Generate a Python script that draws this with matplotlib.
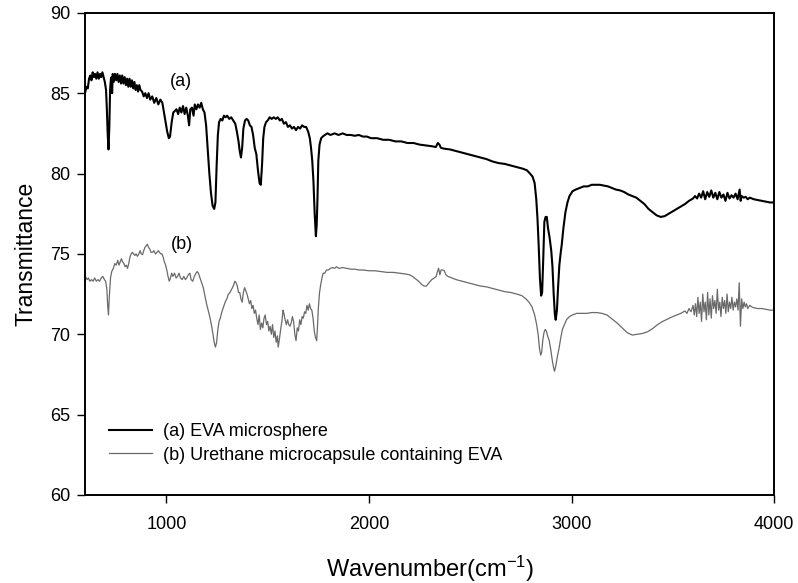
import matplotlib
matplotlib.use("Agg")
import matplotlib.pyplot as plt

plt.rcParams['font.family'] = ['Liberation Sans', 'DejaVu Sans']
plt.rcParams['mathtext.fontset'] = 'custom'
plt.rcParams['mathtext.rm'] = 'Liberation Sans'
plt.rcParams['mathtext.it'] = 'Liberation Sans:italic'

# ---- data: curve (a) EVA microsphere ----
wn_a = [600, 606, 612, 618, 624, 630, 636, 642, 648, 654, 660, 666, 672, 678, 684, 690, 696, 702, 706, 710,
        714, 718, 722, 726, 729, 732, 735, 740, 746, 752, 758, 764, 770, 776, 782, 788, 794, 800, 806, 812,
        818, 824, 830, 836, 842, 848, 854, 860, 866, 872, 880, 888, 896, 904, 912, 920, 930, 940, 950, 960,
        970, 980, 988, 996, 1004, 1012, 1018, 1026, 1034, 1042, 1050, 1058, 1066, 1074, 1082, 1090, 1098, 1106, 1112, 1118,
        1126, 1134, 1140, 1148, 1156, 1164, 1172, 1180, 1188, 1196, 1204, 1212, 1220, 1228, 1236, 1242, 1248, 1254, 1260, 1268,
        1276, 1284, 1292, 1300, 1310, 1320, 1330, 1340, 1348, 1356, 1362, 1368, 1374, 1380, 1388, 1396, 1404, 1412, 1420, 1428,
        1436, 1444, 1452, 1460, 1466, 1472, 1478, 1484, 1492, 1500, 1510, 1520, 1530, 1540, 1550, 1560, 1570, 1580, 1590, 1600,
        1610, 1620, 1630, 1640, 1650, 1660, 1670, 1680, 1690, 1700, 1708, 1714, 1720, 1726, 1732, 1738, 1742, 1746, 1750, 1756,
        1764, 1772, 1782, 1795, 1810, 1830, 1850, 1870, 1890, 1910, 1930, 1950, 1970, 1990, 2010, 2040, 2070, 2100, 2130, 2160,
        2190, 2220, 2250, 2280, 2310, 2330, 2340, 2348, 2355, 2370, 2400, 2430, 2460, 2490, 2520, 2550, 2580, 2610, 2640, 2670,
        2700, 2730, 2760, 2780, 2795, 2808, 2818, 2826, 2832, 2838, 2844, 2850, 2855, 2860, 2866, 2872, 2878, 2884, 2892, 2900,
        2906, 2912, 2918, 2922, 2928, 2934, 2940, 2946, 2952, 2960, 2970, 2980, 2990, 3005, 3020, 3040, 3060, 3080, 3100, 3120,
        3140, 3160, 3180, 3200, 3220, 3240, 3260, 3280, 3300, 3320, 3340, 3360, 3380, 3400, 3420, 3440, 3460, 3480, 3500, 3520,
        3540, 3560, 3580, 3600, 3610, 3620, 3630, 3640, 3650, 3660, 3670, 3680, 3690, 3700, 3710, 3720, 3730, 3740, 3750, 3760,
        3770, 3780, 3790, 3800, 3810, 3820, 3830, 3835, 3840, 3850, 3860, 3870, 3880, 3900, 3920, 3940, 3960, 3980, 4000]
t_a = [85.1, 85.4, 85.3, 85.9, 86.1, 85.8, 86.3, 86.0, 86.2, 85.9, 86.3, 85.9, 86.2, 86.0, 86.3, 86.0, 85.7, 85.2, 84.0, 82.5,
       81.5, 82.8, 85.2, 85.9, 86.0, 85.0, 86.2, 85.7, 86.2, 85.8, 86.2, 85.7, 86.1, 85.6, 86.1, 85.6, 86.0, 85.5, 85.9, 85.4,
       85.9, 85.4, 85.8, 85.3, 85.7, 85.2, 85.5, 85.1, 85.5, 85.2, 85.1, 84.8, 85.0, 84.7, 85.0, 84.6, 84.8, 84.4, 84.7, 84.3,
       84.6, 84.4, 83.8, 83.2, 82.6, 82.2, 82.3, 83.2, 83.8, 83.9, 84.0, 83.7, 84.1, 83.8, 84.2, 83.7, 84.1, 83.6, 83.0, 84.0,
       84.1, 83.6, 84.3, 84.0, 84.3, 84.1, 84.4, 84.0, 83.8, 83.0, 81.5, 80.0, 78.8, 78.0, 77.8, 78.2, 80.5, 82.4, 83.2, 83.4,
       83.3, 83.6, 83.5, 83.6, 83.4, 83.5, 83.3, 83.1, 82.6, 82.0, 81.4, 81.0, 81.6, 82.8, 83.3, 83.4, 83.3, 83.0, 82.9, 82.4,
       81.6, 81.2, 80.2, 79.4, 79.3, 80.5, 82.2, 82.9, 83.2, 83.3, 83.5, 83.4, 83.5, 83.4, 83.5, 83.3, 83.4, 83.1, 83.2, 82.9,
       83.0, 82.8, 82.9, 82.7, 82.9, 82.8, 83.0, 82.9, 82.9, 82.6, 82.2, 81.6, 80.8, 79.5, 77.5, 76.1, 76.8, 78.5, 80.8, 81.8,
       82.2, 82.3, 82.4, 82.5, 82.4, 82.5, 82.4, 82.5, 82.4, 82.4, 82.35, 82.4, 82.3, 82.3, 82.2, 82.2, 82.1, 82.1, 82.0, 82.0,
       81.9, 81.9, 81.8, 81.75, 81.7, 81.65, 81.9, 81.8, 81.6, 81.55, 81.5, 81.4, 81.3, 81.2, 81.1, 81.0, 80.9, 80.75, 80.65, 80.6,
       80.5, 80.4, 80.3, 80.2, 80.0, 79.8, 79.4, 78.4, 77.2, 75.5, 73.5, 72.4, 72.6, 74.5, 77.0, 77.3, 77.3, 76.6, 76.0, 75.2,
       74.2, 72.5, 71.2, 70.9, 71.5, 73.0, 74.3, 75.0, 75.6, 76.6, 77.6, 78.2, 78.6, 78.9, 79.0, 79.1, 79.2, 79.2, 79.3, 79.3,
       79.3, 79.25, 79.2, 79.1, 79.0, 78.95, 78.85, 78.7, 78.6, 78.5, 78.3, 78.1, 77.8, 77.6, 77.4, 77.3, 77.35, 77.5, 77.65, 77.8,
       77.95, 78.1, 78.3, 78.45, 78.6, 78.45, 78.75, 78.5, 78.9, 78.4, 78.85, 78.55, 78.95, 78.5, 78.8, 78.4, 78.85, 78.5, 78.7, 78.3,
       78.8, 78.45, 78.65, 78.5, 78.75, 78.4, 79.0, 78.3, 78.6, 78.5, 78.55, 78.4, 78.5, 78.4, 78.35, 78.3, 78.25, 78.2, 78.2]

# ---- data: curve (b) Urethane microcapsule containing EVA ----
wn_b = [600, 608, 615, 622, 630, 638, 646, 654, 662, 670, 678, 686, 694, 700, 706, 710, 714, 718, 724, 730,
        738, 745, 752, 760, 766, 772, 778, 784, 790, 796, 802, 808, 814, 820, 826, 832, 838, 844, 850, 857,
        864, 870, 876, 882, 888, 894, 900, 906, 912, 918, 924, 931, 938, 946, 954, 960, 966, 972, 978, 984,
        990, 996, 1002, 1008, 1014, 1020, 1026, 1032, 1040, 1048, 1055, 1062, 1070, 1078, 1086, 1094, 1100, 1108, 1116, 1122,
        1130, 1138, 1146, 1152, 1158, 1166, 1174, 1182, 1190, 1198, 1206, 1214, 1222, 1230, 1236, 1242, 1248, 1254, 1260, 1266,
        1274, 1282, 1290, 1298, 1306, 1314, 1322, 1330, 1338, 1344, 1350, 1356, 1362, 1368, 1374, 1380, 1386, 1392, 1398, 1404,
        1410, 1416, 1422, 1428, 1434, 1440, 1446, 1452, 1458, 1464, 1470, 1476, 1482, 1488, 1494, 1500, 1506, 1512, 1518, 1524,
        1530, 1536, 1542, 1548, 1552, 1558, 1564, 1570, 1576, 1580, 1586, 1592, 1598, 1604, 1610, 1616, 1622, 1628, 1634, 1640,
        1646, 1652, 1658, 1664, 1670, 1676, 1682, 1688, 1694, 1700, 1706, 1712, 1718, 1724, 1730, 1736, 1742, 1746, 1750, 1756,
        1762, 1768, 1774, 1782, 1790, 1800, 1810, 1820, 1830, 1840, 1852, 1870, 1890, 1910, 1930, 1950, 1970, 2000, 2030, 2060,
        2090, 2120, 2150, 2180, 2200, 2215, 2230, 2245, 2260, 2272, 2284, 2296, 2310, 2322, 2332, 2338, 2344, 2350, 2356, 2364,
        2372, 2380, 2390, 2400, 2430, 2460, 2490, 2520, 2550, 2580, 2610, 2640, 2670, 2700, 2730, 2755, 2775, 2790, 2805, 2818,
        2828, 2836, 2842, 2848, 2853, 2858, 2864, 2870, 2876, 2882, 2890, 2898, 2906, 2912, 2916, 2922, 2930, 2938, 2946, 2955,
        2965, 2975, 2990, 3005, 3025, 3050, 3075, 3100, 3125, 3150, 3175, 3200, 3225, 3250, 3275, 3300, 3325, 3350, 3375, 3400,
        3425, 3450, 3475, 3500, 3520, 3540, 3560, 3570, 3580, 3590, 3600, 3606, 3612, 3618, 3624, 3630, 3636, 3642, 3648, 3654,
        3660, 3666, 3672, 3678, 3684, 3690, 3696, 3702, 3708, 3714, 3720, 3726, 3732, 3738, 3744, 3750, 3756, 3762, 3768, 3774,
        3780, 3786, 3792, 3798, 3804, 3810, 3816, 3822, 3828, 3834, 3840, 3846, 3852, 3858, 3864, 3870, 3880, 3890, 3900, 3920,
        3940, 3960, 3980, 4000]
t_b = [73.6, 73.4, 73.5, 73.3, 73.4, 73.3, 73.5, 73.3, 73.4, 73.3, 73.5, 73.6, 73.4, 73.3, 72.8, 71.8, 71.2, 72.3, 73.5, 73.9,
       74.1, 74.4, 74.3, 74.6, 74.3, 74.5, 74.7, 74.5, 74.4, 74.2, 74.3, 74.1, 74.4, 74.8, 75.0, 75.1, 75.0, 74.9, 75.0, 74.85,
       75.0, 75.2, 75.0, 74.95, 75.2, 75.4, 75.5, 75.6, 75.4, 75.3, 75.1, 75.1, 75.2, 75.0, 75.1, 75.2, 75.1, 75.0, 75.0, 74.8,
       74.5, 74.3, 74.0, 73.6, 73.3, 73.5, 73.8, 73.6, 73.8, 73.5, 73.6, 73.8, 73.5, 73.4, 73.6, 73.4, 73.5, 73.7, 73.8, 73.4,
       73.3, 73.6, 73.8, 73.9, 73.8, 73.5, 73.2, 72.9, 72.4, 71.9, 71.5, 71.1, 70.6, 70.0, 69.5, 69.2, 69.5, 70.3, 70.8, 71.0,
       71.4, 71.7, 72.0, 72.2, 72.5, 72.6, 72.8, 73.0, 73.3, 73.2, 73.0, 72.6, 72.6, 72.2, 72.0, 72.6, 72.9, 72.7, 72.5, 72.2,
       71.9, 72.1, 71.6, 71.8, 71.3, 71.5, 71.0, 70.6, 71.2, 70.3, 70.7, 70.4, 71.0, 71.2, 70.6, 70.8, 70.2, 70.5, 70.0, 70.6,
       69.8, 70.2, 69.5, 69.9, 69.2, 69.7, 70.3, 70.8, 71.5, 71.3, 70.9, 70.6, 70.9, 70.6, 70.5, 70.7, 71.1, 70.8, 70.0, 69.6,
       70.4, 70.2, 70.9, 70.6, 71.1, 71.0, 71.4, 71.3, 71.8, 71.5, 71.9, 71.6, 71.5, 71.0, 70.2, 69.8, 69.6, 70.5, 71.6, 72.6,
       73.1, 73.5, 73.8, 73.8, 74.0, 74.0, 74.1, 74.15, 74.1, 74.2, 74.1, 74.15, 74.1, 74.05, 74.05, 74.0, 74.0, 73.95, 73.95, 73.9,
       73.85, 73.85, 73.8, 73.75, 73.7, 73.6, 73.45, 73.3, 73.1, 73.0, 73.0, 73.2, 73.4, 73.5, 73.6, 73.9, 74.1, 73.7, 74.0, 74.0,
       73.95, 73.7, 73.6, 73.55, 73.4, 73.3, 73.2, 73.1, 73.0, 72.95, 72.85, 72.75, 72.65, 72.6, 72.5, 72.4, 72.2, 72.0, 71.7, 71.2,
       70.6, 69.9, 69.1, 68.7, 68.9, 69.6, 70.1, 70.3, 70.2, 69.9, 69.6, 69.0, 68.3, 67.9, 67.7, 68.0, 68.6, 69.1, 69.7, 70.3,
       70.6, 70.9, 71.1, 71.2, 71.3, 71.3, 71.3, 71.35, 71.35, 71.3, 71.2, 70.95, 70.7, 70.4, 70.1, 69.95, 70.0, 70.05, 70.15, 70.35,
       70.6, 70.8, 70.95, 71.1, 71.2, 71.3, 71.45, 71.3, 71.6, 71.4, 71.8, 71.2, 71.9, 71.1, 72.3, 71.3, 72.0, 70.8, 72.5, 71.4,
       72.0, 70.9, 72.6, 71.2, 72.2, 71.0, 72.4, 71.6, 72.1, 71.3, 72.8, 71.5, 72.0, 71.1, 72.3, 71.6, 72.1, 71.3, 72.5, 71.4,
       72.0, 71.6, 72.3, 71.5, 72.0, 71.7, 72.2, 71.5, 73.2, 70.5, 72.2, 71.6, 72.0, 71.7, 71.9, 71.6, 71.8, 71.7, 71.65, 71.6,
       71.6, 71.55, 71.5, 71.5]

series_labels = ["(a) EVA microsphere", "(b) Urethane microcapsule containing EVA"]
x_ticks = [1000, 2000, 3000, 4000]
y_ticks = [60, 65, 70, 75, 80, 85, 90]

fig = plt.figure(figsize=(7.98, 5.83), dpi=100)
ax = fig.add_axes([0.107, 0.151, 0.863, 0.827])

ax.plot(wn_a, t_a, color='black', lw=1.5, label=series_labels[0])
ax.plot(wn_b, t_b, color='#6a6a6a', lw=0.9, label=series_labels[1])

ax.set_xlim(600, 4000)
ax.set_ylim(60, 90)
ax.set_xticks(x_ticks)
ax.set_yticks(y_ticks)
ax.tick_params(direction='out', length=6, width=1.0, labelsize=13, top=False, right=False)
ax.tick_params(axis='x', pad=9)
ax.tick_params(axis='y', pad=5)
for s in ax.spines.values():
    s.set_linewidth(1.4)

ax.set_xlabel('Wavenumber(cm$^{-1}$)', fontsize=17, labelpad=15)
ax.set_ylabel('Transmittance', fontsize=16.5, labelpad=9)

ax.text(1071, 85.7, '(a)', fontsize=13, ha='center', va='center')
ax.text(1076, 75.6, '(b)', fontsize=13, ha='center', va='center')

ax.legend(loc='lower left', bbox_to_anchor=(0.024, 0.05), frameon=False, fontsize=13,
          handlelength=2.4, handletextpad=0.6, labelspacing=0.35, borderaxespad=0)

fig.savefig('out.png', dpi=100)
